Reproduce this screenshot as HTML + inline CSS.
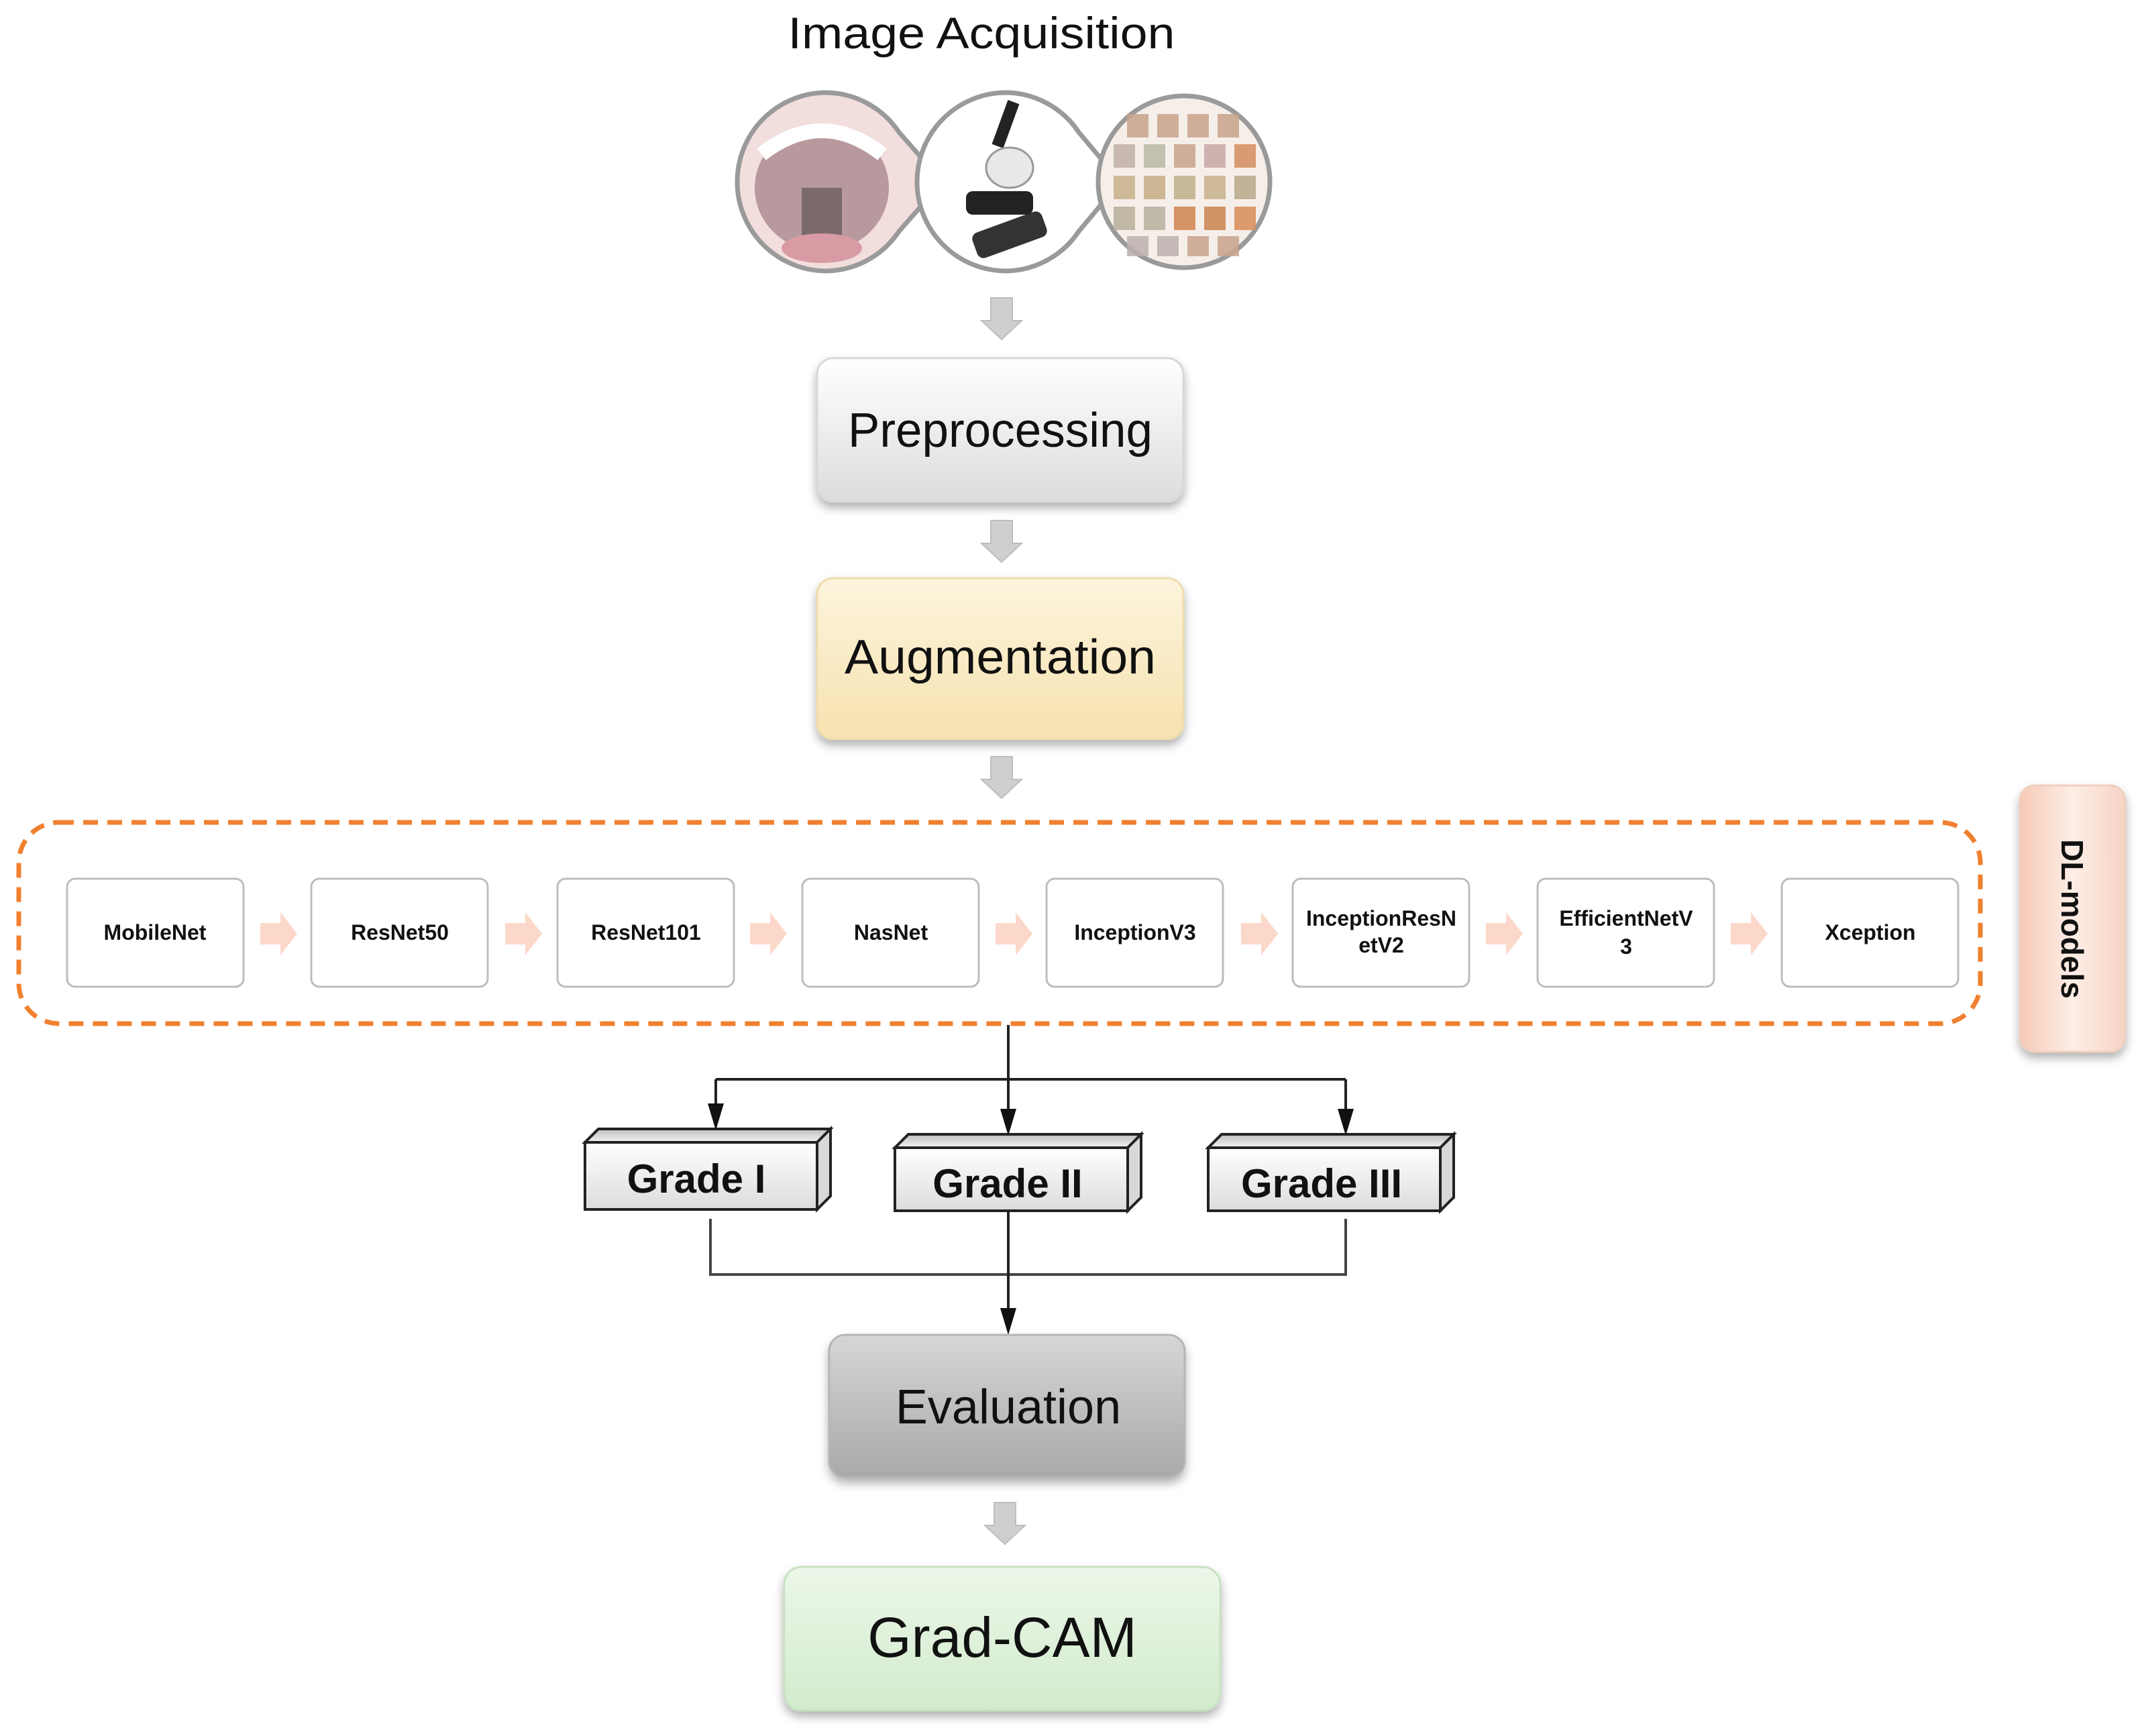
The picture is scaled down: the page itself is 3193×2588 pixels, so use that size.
<!DOCTYPE html>
<html><head><meta charset="utf-8"><style>html,body{margin:0;padding:0;background:#fff}svg{display:block}</style></head>
<body>
<svg width="3193" height="2588" viewBox="0 0 3193 2588" xmlns="http://www.w3.org/2000/svg" font-family="Liberation Sans, sans-serif">
<defs>
<linearGradient id="gw" x1="0" y1="0" x2="0" y2="1"><stop offset="0" stop-color="#ffffff"/><stop offset="1" stop-color="#dcdcdc"/></linearGradient>
<linearGradient id="gy" x1="0" y1="0" x2="0" y2="1"><stop offset="0" stop-color="#fdf4dc"/><stop offset="1" stop-color="#f6e2b0"/></linearGradient>
<linearGradient id="gg" x1="0" y1="0" x2="0" y2="1"><stop offset="0" stop-color="#d6d6d6"/><stop offset="1" stop-color="#a9a9a9"/></linearGradient>
<linearGradient id="gn" x1="0" y1="0" x2="0" y2="1"><stop offset="0" stop-color="#ecf7e9"/><stop offset="1" stop-color="#d2ebcc"/></linearGradient>
<linearGradient id="gp" x1="0" y1="0" x2="1" y2="0"><stop offset="0" stop-color="#f6c9b6"/><stop offset="0.5" stop-color="#fdeee6"/><stop offset="1" stop-color="#f6d3c4"/></linearGradient>
<linearGradient id="gtop" x1="0" y1="0" x2="0" y2="1"><stop offset="0" stop-color="#bdbdbd"/><stop offset="1" stop-color="#f4f4f4"/></linearGradient>
<filter id="sh" x="-10%" y="-10%" width="130%" height="140%"><feDropShadow dx="0" dy="8" stdDeviation="7" flood-color="#000" flood-opacity="0.3"/></filter>
<g id="darr"><path d="M-16,0 h32 v34 h14 l-30,28 l-30,-28 h14 z" fill="#cfcfcf" stroke="#bdbdbd" stroke-width="2"/></g>
<g id="parr"><path d="M0,-16 h30 v-16 l25,32 l-25,32 v-16 h-30 z" fill="#fcd8ca"/></g>
<path id="tri" d="M-12,-40 L12,-40 L0,0 z" fill="#111"/>
</defs>

<text x="1463" y="72" font-size="66" text-anchor="middle" fill="#111" textLength="577" lengthAdjust="spacingAndGlyphs">Image Acquisition</text>

<g stroke="#9a9a9a" stroke-width="7">
<path d="M1232,138 A133,133 0 1 0 1232,404 A133,133 0 0 0 1340,345 L1405,271 L1340,197 A133,133 0 0 0 1232,138 z" fill="#f3dede"/>
<path d="M1500,138 A133,133 0 1 0 1500,404 A133,133 0 0 0 1608,345 L1670,271 L1608,197 A133,133 0 0 0 1500,138 z" fill="#fff"/>
<circle cx="1765" cy="271" r="128" fill="#f6efe9"/>
</g>
<ellipse cx="1225" cy="280" rx="100" ry="95" fill="#b89a9e"/>
<path d="M1135,230 Q1225,160 1315,230" stroke="#fff" stroke-width="22" fill="none"/>
<rect x="1195" y="280" width="60" height="100" fill="#7a6a6c"/>
<ellipse cx="1225" cy="370" rx="60" ry="22" fill="#d99ba3"/>
<rect x="1490" y="150" width="18" height="70" fill="#222" transform="rotate(20 1499 185)"/>
<ellipse cx="1505" cy="250" rx="35" ry="30" fill="#e8e8e8" stroke="#999" stroke-width="3"/>
<rect x="1440" y="285" width="100" height="35" rx="10" fill="#222"/>
<rect x="1450" y="330" width="110" height="40" rx="10" fill="#333" transform="rotate(-20 1505 350)"/>
<g fill="#c9a38c" opacity="0.85">
<rect x="1680" y="170" width="32" height="35"/><rect x="1725" y="170" width="32" height="35"/><rect x="1770" y="170" width="32" height="35"/><rect x="1815" y="170" width="32" height="35"/>
<rect x="1660" y="215" width="32" height="35" fill="#bfb0a8"/><rect x="1705" y="215" width="32" height="35" fill="#b8b8a8"/><rect x="1750" y="215" width="32" height="35"/><rect x="1795" y="215" width="32" height="35" fill="#c7a9a5"/><rect x="1840" y="215" width="32" height="35" fill="#d58e5e"/>
<rect x="1660" y="262" width="32" height="35" fill="#c6b08a"/><rect x="1705" y="262" width="32" height="35" fill="#c7ad86"/><rect x="1750" y="262" width="32" height="35" fill="#bfb08a"/><rect x="1795" y="262" width="32" height="35" fill="#c8b08a"/><rect x="1840" y="262" width="32" height="35" fill="#b8a88a"/>
<rect x="1660" y="308" width="32" height="35" fill="#b8b09a"/><rect x="1705" y="308" width="32" height="35" fill="#b8b0a0"/><rect x="1750" y="308" width="32" height="35" fill="#d1834e"/><rect x="1795" y="308" width="32" height="35" fill="#c98450"/><rect x="1840" y="308" width="32" height="35" fill="#d98c58"/>
<rect x="1680" y="352" width="32" height="30" fill="#bdb0b0"/><rect x="1725" y="352" width="32" height="30" fill="#bdb0b0"/><rect x="1770" y="352" width="32" height="30"/><rect x="1815" y="352" width="32" height="30"/>
</g>

<use href="#darr" x="1493" y="444"/>
<rect x="1218" y="534" width="546" height="214" rx="24" fill="url(#gw)" stroke="#d8d8d8" stroke-width="3" filter="url(#sh)"/>
<text x="1491" y="666" font-size="72" text-anchor="middle" fill="#111" textLength="454" lengthAdjust="spacingAndGlyphs">Preprocessing</text>

<use href="#darr" x="1493" y="776"/>
<rect x="1218" y="862" width="546" height="240" rx="24" fill="url(#gy)" stroke="#efdcae" stroke-width="3" filter="url(#sh)"/>
<text x="1491" y="1004" font-size="72" text-anchor="middle" fill="#111" textLength="464" lengthAdjust="spacingAndGlyphs">Augmentation</text>

<use href="#darr" x="1493" y="1128"/>

<rect x="28" y="1226" width="2924" height="300" rx="60" fill="none" stroke="#f0802f" stroke-width="7" stroke-dasharray="22,14"/>

<g font-size="32" font-weight="bold" text-anchor="middle" fill="#111">
<g stroke="#bdbdbd" stroke-width="3" fill="#fff">
<rect x="100" y="1310" width="263" height="161" rx="12"/>
<rect x="464" y="1310" width="263" height="161" rx="12"/>
<rect x="831" y="1310" width="263" height="161" rx="12"/>
<rect x="1196" y="1310" width="263" height="161" rx="12"/>
<rect x="1560" y="1310" width="263" height="161" rx="12"/>
<rect x="1927" y="1310" width="263" height="161" rx="12"/>
<rect x="2292" y="1310" width="263" height="161" rx="12"/>
<rect x="2656" y="1310" width="263" height="161" rx="12"/>
</g>
<text x="231" y="1401">MobileNet</text>
<text x="596" y="1401">ResNet50</text>
<text x="963" y="1401">ResNet101</text>
<text x="1328" y="1401">NasNet</text>
<text x="1692" y="1401">InceptionV3</text>
<text x="2059" y="1380">InceptionResN</text>
<text x="2059" y="1420">etV2</text>
<text x="2424" y="1380">EfficientNetV</text>
<text x="2424" y="1422">3</text>
<text x="2788" y="1401">Xception</text>
</g>
<use href="#parr" x="388" y="1392"/>
<use href="#parr" x="753" y="1392"/>
<use href="#parr" x="1118" y="1392"/>
<use href="#parr" x="1484" y="1392"/>
<use href="#parr" x="1850" y="1392"/>
<use href="#parr" x="2215" y="1392"/>
<use href="#parr" x="2580" y="1392"/>

<rect x="3011" y="1171" width="157" height="397" rx="22" fill="url(#gp)" stroke="#f0cfc0" stroke-width="3" filter="url(#sh)"/>
<text transform="translate(3073,1370) rotate(90)" font-size="46" font-weight="bold" text-anchor="middle" fill="#111">DL-models</text>

<g stroke="#222" stroke-width="4" fill="none">
<line x1="1503" y1="1528" x2="1503" y2="1660"/>
<polyline points="1067,1609 2006,1609"/>
<line x1="1067" y1="1609" x2="1067" y2="1650"/>
<line x1="2006" y1="1609" x2="2006" y2="1660"/>
<polyline points="1059,1817 1059,1900 2006,1900 2006,1817" stroke="#444"/>
<line x1="1503" y1="1805" x2="1503" y2="1960"/>
</g>

<g stroke="#222" stroke-width="4">
<g>
<path d="M892,1683 h346 l-20,20 h-346 z" fill="url(#gtop)"/>
<path d="M1238,1683 v100 l-20,20 v-100 z" fill="#d8d8d8"/>
<rect x="872" y="1703" width="346" height="100" fill="url(#gw)"/>
</g>
<g>
<path d="M1354,1691 h347 l-20,20 h-347 z" fill="url(#gtop)"/>
<path d="M1701,1691 v94 l-20,20 v-94 z" fill="#d8d8d8"/>
<rect x="1334" y="1711" width="347" height="94" fill="url(#gw)"/>
</g>
<g>
<path d="M1821,1691 h346 l-20,20 h-346 z" fill="url(#gtop)"/>
<path d="M2167,1691 v94 l-20,20 v-94 z" fill="#d8d8d8"/>
<rect x="1801" y="1711" width="346" height="94" fill="url(#gw)"/>
</g>
</g>
<use href="#tri" x="1067" y="1685"/>
<use href="#tri" x="1503" y="1693"/>
<use href="#tri" x="2006" y="1693"/>
<use href="#tri" x="1503" y="1990"/>
<g font-size="60" font-weight="bold" text-anchor="middle" fill="#111">
<text x="1038" y="1778">Grade I</text>
<text x="1502" y="1785">Grade II</text>
<text x="1970" y="1785">Grade III</text>
</g>

<rect x="1236" y="1990" width="530" height="212" rx="24" fill="url(#gg)" stroke="#b5b5b5" stroke-width="3" filter="url(#sh)"/>
<text x="1503" y="2122" font-size="72" text-anchor="middle" fill="#111">Evaluation</text>

<use href="#darr" x="1498" y="2240"/>
<rect x="1169" y="2336" width="650" height="214" rx="26" fill="url(#gn)" stroke="#c9e2c3" stroke-width="3" filter="url(#sh)"/>
<text x="1494" y="2470" font-size="84" text-anchor="middle" fill="#111">Grad-CAM</text>
</svg>
</body></html>
